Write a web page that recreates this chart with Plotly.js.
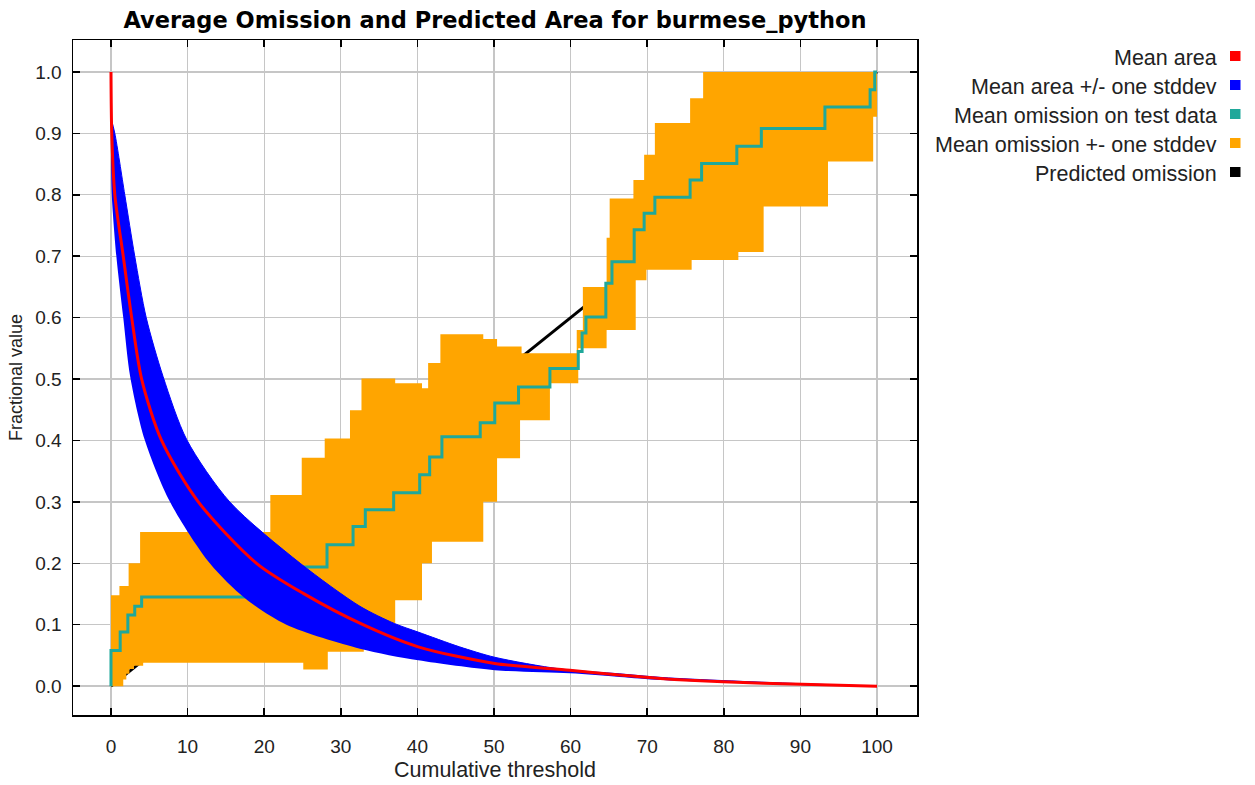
<!DOCTYPE html>
<html>
<head>
<meta charset="utf-8">
<script src="https://cdn.plot.ly/plotly-3.0.1.min.js"></script>
<style>html,body{margin:0;padding:0;background:#fff;}#chart{width:1255px;height:785px;}</style>
</head>
<body>
<div id="chart"></div>
<script>
// ---- Data ----
// Predicted omission (diagonal)
const predX = [0, 100];
const predY = [0, 1];

// Mean omission +- one stddev (step functions, value holds from x to next x)
const omUpX = [0, 1.1, 2.3, 3.8, 20.8, 24.9, 27.9, 31.2, 32.7, 37.1, 40.6, 41.4, 43.0, 48.6, 50.4, 53.6, 60.8, 61.6, 64.7, 65.1, 68.2, 69.6, 71.0, 75.6, 77.3, 100];
const omUpY = [0.148, 0.163, 0.2, 0.251, 0.311, 0.372, 0.403, 0.449, 0.501, 0.493, 0.485, 0.526, 0.573, 0.565, 0.553, 0.542, 0.58, 0.65, 0.73, 0.794, 0.824, 0.865, 0.917, 0.957, 1.0, 1.0];
const omLoX = [0, 1.6, 2.0, 2.4, 3.0, 4.2, 25.1, 28.3, 33.0, 37.1, 40.6, 41.9, 48.6, 50.4, 53.4, 57.3, 61.0, 64.7, 68.5, 69.9, 75.8, 81.9, 85.2, 93.6, 99.5, 100];
const omLoY = [0.0, 0.011, 0.02, 0.028, 0.033, 0.038, 0.027, 0.056, 0.102, 0.14, 0.2, 0.235, 0.3, 0.371, 0.433, 0.493, 0.55, 0.58, 0.661, 0.678, 0.694, 0.707, 0.781, 0.854, 0.927, 0.927];

// Mean omission on test data (step)
const omMeanX = [0, 0, 1.2, 2.2, 3.1, 4.0, 22.5, 28.2, 31.6, 33.2, 36.9, 40.3, 41.6, 43.2, 48.2, 50.1, 53.2, 57.3, 61.0, 61.5, 62.0, 64.6, 65.4, 68.3, 69.6, 71.0, 75.6, 77.1, 81.7, 84.9, 93.2, 99.1, 99.7, 100];
const omMeanY = [0, 0.058, 0.088, 0.116, 0.13, 0.145, 0.194, 0.23, 0.26, 0.287, 0.315, 0.344, 0.373, 0.406, 0.429, 0.461, 0.487, 0.517, 0.545, 0.575, 0.601, 0.656, 0.691, 0.743, 0.77, 0.796, 0.824, 0.851, 0.879, 0.908, 0.943, 0.971, 1.0, 1.0];

// Mean area +/- one stddev
const areaUpX = [0, 0.5, 1.8, 3.1, 4.6, 6.8, 9.9, 15.5, 24.7, 32.5, 37.0, 40.1, 45.5, 50.1, 58.6, 66.4, 72, 80, 90, 100];
const areaUpY = [0.925, 0.9, 0.8, 0.7, 0.6, 0.504, 0.401, 0.3, 0.2, 0.13, 0.102, 0.088, 0.064, 0.047, 0.028, 0.02, 0.014, 0.009, 0.004, 0.0];
const areaLoX = [0, 0.1, 0.7, 1.6, 2.5, 4.4, 7.7, 12.9, 17.5, 22.9, 32.5, 40.1, 50.1, 59.9, 66.4, 71.7, 80, 90, 100];
const areaLoY = [0.865, 0.8, 0.7, 0.6, 0.504, 0.401, 0.3, 0.2, 0.143, 0.1, 0.061, 0.042, 0.026, 0.021, 0.015, 0.01, 0.006, 0.002, 0.0];

// Mean area
const areaX = [0, 0.1, 0.5, 1.6, 2.7, 4.0, 6.6, 11.4, 19.0, 25.1, 32.9, 40.1, 50.1, 59.9, 66.4, 71.7, 79.9, 90.2, 100];
const areaY = [1.0, 0.9, 0.8, 0.7, 0.6, 0.5, 0.4, 0.3, 0.2, 0.151, 0.1, 0.064, 0.037, 0.026, 0.018, 0.0125, 0.007, 0.003, 0.0];

// Legend
const legendLabels = ["Mean area", "Mean area +/- one stddev", "Mean omission on test data", "Mean omission +- one stddev", "Predicted omission"];
const legendColors = ["#ff0000", "#0000ff", "#1fa89a", "#ffa500", "#000000"];

const xTicks = [0, 10, 20, 30, 40, 50, 60, 70, 80, 90, 100];
const yTicks = [0, 0.1, 0.2, 0.3, 0.4, 0.5, 0.6, 0.7, 0.8, 0.9, 1.0];

// ---- Traces ----
const traces = [
  {x: predX, y: predY, mode: 'lines', line: {color: '#000000', width: 3}, showlegend: false},
  {x: omLoX, y: omLoY, mode: 'lines', line: {color: 'rgba(0,0,0,0)', width: 0, shape: 'hv'}, showlegend: false},
  {x: omUpX, y: omUpY, mode: 'lines', line: {color: 'rgba(0,0,0,0)', width: 0, shape: 'hv'}, fill: 'tonexty', fillcolor: '#ffa500', showlegend: false},
  {x: omMeanX, y: omMeanY, mode: 'lines', line: {color: '#1fa89a', width: 3, shape: 'hv'}, showlegend: false},
  {x: areaLoX, y: areaLoY, mode: 'lines', line: {color: 'rgba(0,0,0,0)', width: 0, shape: 'spline', smoothing: 0.8}, showlegend: false},
  {x: areaUpX, y: areaUpY, mode: 'lines', line: {color: '#0000ff', width: 1, shape: 'spline', smoothing: 0.8}, fill: 'tonexty', fillcolor: '#0000ff', showlegend: false},
  {x: areaX, y: areaY, mode: 'lines', line: {color: '#ff0000', width: 3, shape: 'spline', smoothing: 0.8}, showlegend: false}
];

// ---- Layout ----
const L = 73, R = 917, T = 40, B = 715, W = 1255, H = 785;
const pw = R - L, ph = B - T;
const px2paperX = p => (p - L) / pw;
const px2paperY = p => (B - p) / ph;

const annotations = [];
const shapes = [];
const legTextY = [60, 89, 118, 147, 176];
const legBoxY = [56, 85, 114, 143, 172];
legendLabels.forEach((lab, i) => {
  annotations.push({
    xref: 'paper', yref: 'paper', x: px2paperX(1219), y: px2paperY(legTextY[i] - 2),
    xanchor: 'right', yanchor: 'middle', showarrow: false, text: lab,
    font: {family: 'Liberation Sans, Arial, sans-serif', size: 21.5, color: '#222'}
  });
  shapes.push({
    type: 'rect', xref: 'paper', yref: 'paper',
    x0: px2paperX(1230), x1: px2paperX(1240.5), y0: px2paperY(legBoxY[i] - 5), y1: px2paperY(legBoxY[i] + 5),
    fillcolor: legendColors[i], line: {width: 0}
  });
});

const axisCommon = {
  showgrid: true, gridcolor: '#c6c6c6', gridwidth: 1.3,
  showline: true, linecolor: '#000', linewidth: 1.5, mirror: 'ticks',
  ticks: 'inside', ticklen: 7, tickwidth: 1.5, tickcolor: '#000',
  zeroline: false, tickfont: {family: 'Liberation Sans, Arial, sans-serif', size: 19, color: '#222'}
};

const layout = {
  width: W, height: H,
  margin: {l: L, r: W - R, t: T, b: H - B, pad: 0},
  paper_bgcolor: '#fff', plot_bgcolor: '#fff',
  hovermode: false,
  showlegend: false,
  title: {
    text: 'Average Omission and Predicted Area for burmese_python',
    font: {family: 'DejaVu Sans, sans-serif', size: 22.5, color: '#000', weight: 'bold'},
    x: (L + pw / 2) / W, xanchor: 'center', y: 1 - 20 / H, yanchor: 'middle'
  },
  xaxis: Object.assign({}, axisCommon, {
    range: [-4.96, 105.22], tickvals: xTicks, ticktext: xTicks.map(String),
    ticklabelstandoff: 14,
    title: {text: 'Cumulative threshold', font: {family: 'Liberation Sans, Arial, sans-serif', size: 21.5, color: '#222'}, standoff: 5}
  }),
  yaxis: Object.assign({}, axisCommon, {
    range: [-0.047, 1.052], tickvals: yTicks, ticktext: yTicks.map(v => v.toFixed(1)),
    ticklabelstandoff: 6,
    title: {text: 'Fractional value', font: {family: 'Liberation Sans, Arial, sans-serif', size: 18, color: '#222'}, standoff: 8}
  }),
  annotations: annotations,
  shapes: shapes
};

Plotly.newPlot('chart', traces, layout, {displayModeBar: false, staticPlot: true});
</script>
</body>
</html>
